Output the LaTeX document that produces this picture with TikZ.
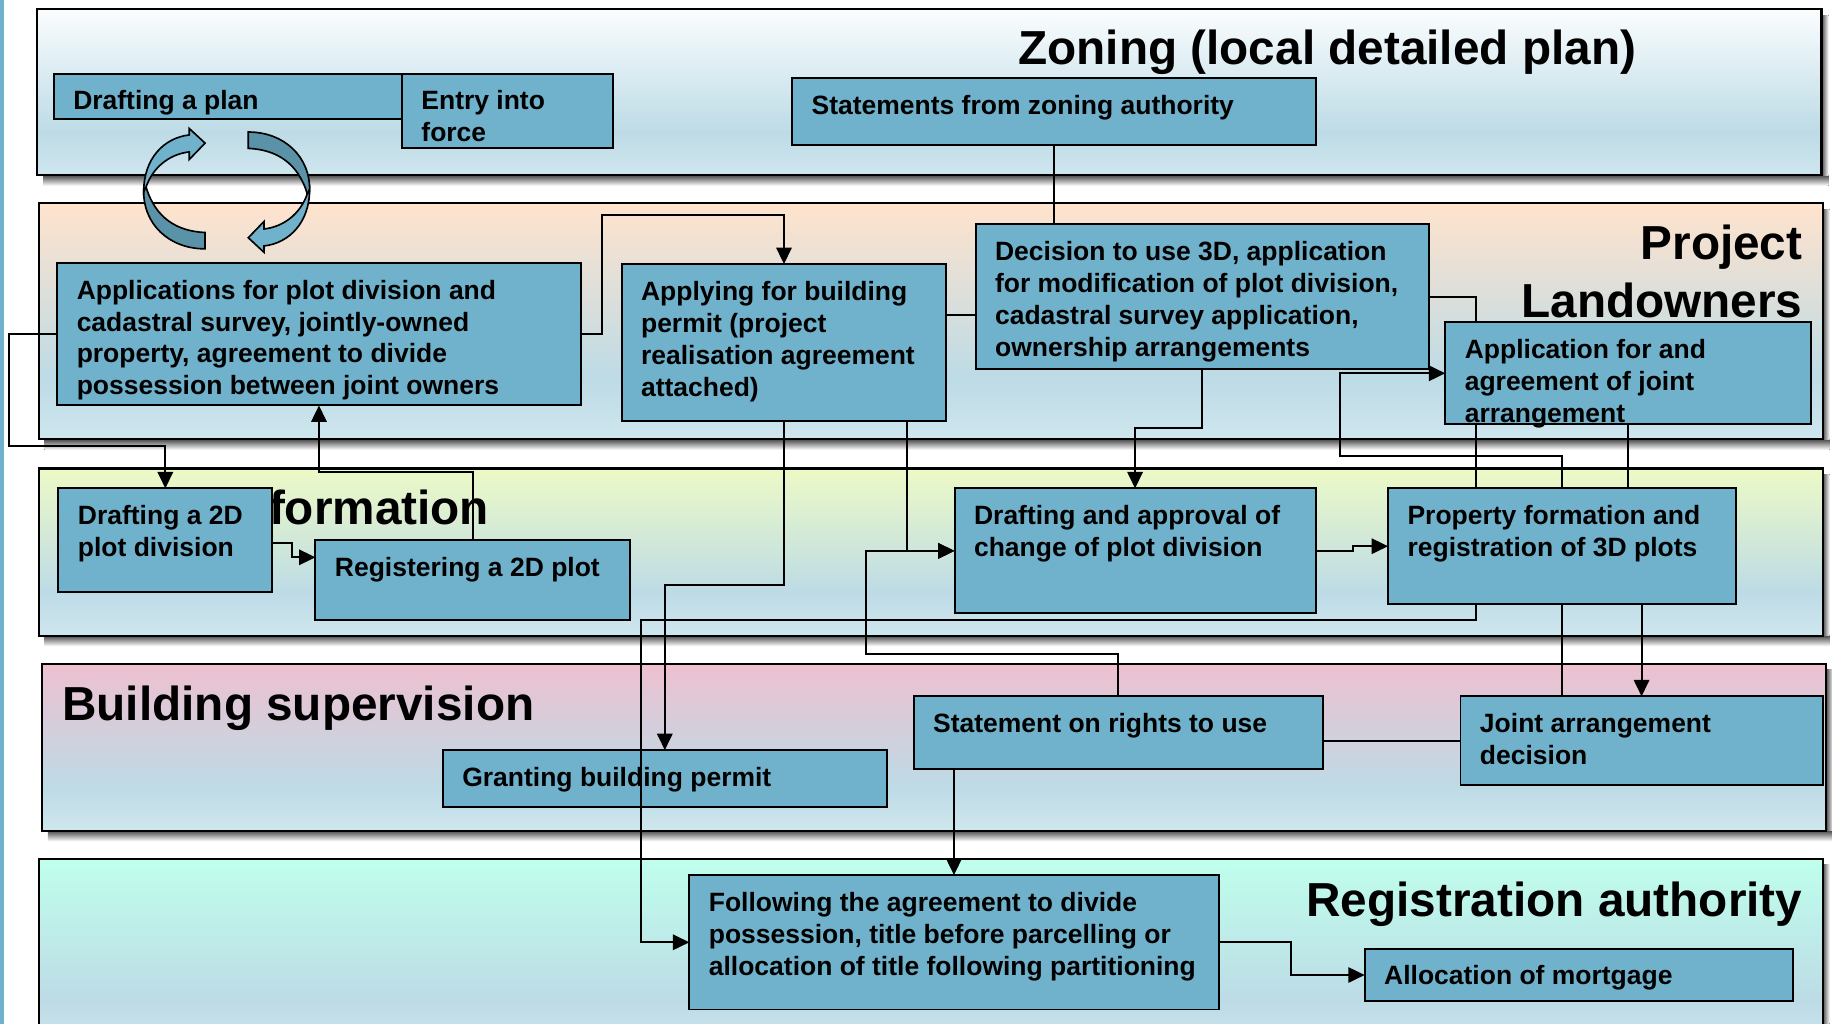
\documentclass[tikz,border=0pt]{standalone}
\usepackage{fontspec}
\setmainfont{Liberation Sans}
\usepackage{tikz}
\usetikzlibrary{arrows.meta}

\definecolor{boxblue}{HTML}{70B2CC}
\definecolor{foldblue}{HTML}{5A92A8}
\definecolor{bandlow}{HTML}{CFE6EE}
\definecolor{bandmid}{HTML}{BDDBE6}
\definecolor{zoningtop}{HTML}{FBFDFE}
\definecolor{projecttop}{HTML}{FFE3CD}
\definecolor{formtop}{HTML}{EDFAC6}
\definecolor{buildtop}{HTML}{EEC0D0}
\definecolor{regtop}{HTML}{BFFFEC}

\newcommand{\bandfade}[2]{\pgfdeclareverticalshading{#1}{100bp}{color(0bp)=(bandlow); color(25bp)=(bandlow); color(38bp)=(bandmid); color(75bp)=(#2); color(100bp)=(#2)}}
\bandfade{zoningfade}{zoningtop}
\bandfade{projectfade}{projecttop}
\bandfade{formfade}{formtop}
\bandfade{buildfade}{buildtop}
\bandfade{regfade}{regtop}

\newdimen\boxunit
\boxunit=0.02cm
\newcommand{\boxtext}[3]{\parbox[c][#2\boxunit][t]{#1\boxunit}{\raggedright\leftskip=16.7\boxunit\rule{0pt}{31\boxunit}#3}}

\tikzset{
	band/.style 2 args={draw=black, line width=1pt, anchor=north west, inner sep=0pt, outer sep=0pt, shade, minimum width=#1*0.02cm, minimum height=#2*0.02cm},
	box/.style={draw=black, line width=.95pt, fill=boxblue, anchor=north west, inner sep=0pt, outer sep=0pt, font=\fontsize{12.9}{15.55}\selectfont\bfseries},
	bandtitle/.style={inner sep=0pt, font=\fontsize{23.25}{28.5}\selectfont\bfseries},
	link/.style={line width=.95pt},
	flow/.style={line width=.95pt, -{Triangle[length=8pt,width=7.5pt]}},
	ribbon/.style={draw=black, line width=.8pt, line join=miter}
}

\begin{document}
\begin{tikzpicture}[x=0.02cm, y=-0.02cm]
	\useasboundingbox (0,0) rectangle (1568,875.6);
	\clip (0,0) rectangle (1568,875.6);
	\fill[boxblue] (0,0) rectangle (3,876);
	% shadows of the bands
	\foreach \xa/\ya/\xb/\yb in {32/8/1559/150, 33/174/1560/376, 33/401/1560/544, 36/568/1563/711}{
		\fill[top color=black!70, bottom color=white] (\xa+5,\yb) rectangle (\xb+6,\yb+9);
		\fill[left color=black!70, right color=white] (\xb,\ya+5) rectangle (\xb+6,\yb);
	}
	\fill[left color=black!70, right color=white] (1560,740) rectangle (1566,876);

	\node (zoning) [band={1527}{142}, shading=zoningfade] at (32,8) {};
	\node (project) [band={1527}{202}, shading=projectfade] at (33,174) {};
	\node (forming) [band={1527}{143}, shading=formfade] at (33,401) {};
	\node (building) [band={1527}{143}, shading=buildfade] at (36,568) {};
	\node (registry) [band={1527}{165}, shading=regfade] at (33,735) {};

	\node (zoningtitle) [bandtitle, anchor=base] at (1136,55) {Zoning (local detailed plan)};
	\node (projecttitle) [bandtitle, anchor=base east] at (1543,222) {Project};
	\node (ownertitle) [bandtitle, anchor=base east] at (1543,272) {Landowners};
	\node (formtitle) [bandtitle, anchor=base east] at (419,449) {formation};
	\node (buildtitle) [bandtitle, anchor=base west] at (53,617) {Building supervision};
	\node (regtitle) [bandtitle, anchor=base east] at (1543,784) {Registration authority};

	% the two turning arrows
	\foreach \turn in {0,180}{
		\begin{scope}[rotate around={\turn:(194,163)}]
			\filldraw[ribbon, fill=foldblue] (123,162) .. controls (122,192) and (145,213) .. (175.5,213) -- (175.5,199) .. controls (152,198) and (133,187) .. (125,160) -- cycle;
			\filldraw[ribbon, fill=boxblue] (123,164) .. controls (123,136) and (140,118) .. (162,115.5) -- (162,110) -- (175.5,122.5) -- (162,136.5) -- (162,130) .. controls (145,132) and (131,143) .. (125,160) -- cycle;
		\end{scope}
	}

	\node (draftplan) [box] at (46,63) {\boxtext{298}{39}{Drafting a plan}};
	\node (entry) [box] at (344,63) {\boxtext{181}{64}{Entry into\\force}};
	\node (statements) [box] at (678,67) {\boxtext{448}{57}{Statements from zoning authority}};
	\node (appl) [box] at (49,225) {\boxtext{448}{122}{Applications for plot division and\\cadastral survey, jointly-owned\\property, agreement to divide\\possession between joint owners}};
	\node (applying) [box] at (532,226) {\boxtext{278}{134}{Applying for building\\permit (project\\realisation agreement\\attached)}};
	\node (decision) [box] at (835,192) {\boxtext{388}{124}{Decision to use 3D, application\\for modification of plot division,\\cadastral survey application,\\ownership arrangements}};
	\node (jointapp) [box] at (1237,276) {\boxtext{313}{87}{Application for and\\agreement of joint\\arrangement}};
	\node (draft2d) [box] at (50,418) {\boxtext{183}{89}{Drafting a 2D\\plot division}};
	\node (reg2d) [box] at (270,462) {\boxtext{269}{69}{Registering a 2D plot}};
	\node (changeplot) [box] at (817,418) {\boxtext{309}{107}{Drafting and approval of\\change of plot division}};
	\node (prop3d) [box] at (1188,418) {\boxtext{298}{99}{Property formation and\\registration of 3D plots}};
	\node (grant) [box] at (379,642) {\boxtext{380}{49}{Granting building permit}};
	\node (rights) [box] at (782,596) {\boxtext{350}{62}{Statement on rights to use}};
	\node (jointdec) [box] at (1250,596) {\boxtext{310}{76}{Joint arrangement\\decision}};
	\node (title) [box] at (590,749) {\boxtext{453}{115}{Following the agreement to divide\\possession, title before parcelling or\\allocation of title following partitioning}};
	\node (mortgage) [box] at (1168,812) {\boxtext{367}{45}{Allocation of mortgage}};

	\draw[link] (statements.south) -- (decision.north -| statements.south);
	\draw[flow] (appl.east) -- ++(18,0) |- (applying.north |- 0,184) -- (applying.north);
	\draw[link] (applying.east |- 0,270) -- (decision.west |- 0,270);
	\draw[link] (decision.east) -| (jointapp.north -| 1263,0);
	\draw[link] (jointapp.south -| 1263,0) -- (prop3d.north -| 1263,0);
	\draw[flow] (prop3d.south -| 1263,0) |- (549,531) |- (title.west);
	\draw[flow] (prop3d.north) |- (1147,390) |- (jointapp.west);
	\draw[link] (jointapp.south) -- (prop3d.north -| jointapp.south);
	\draw[link] (prop3d.south) -- (jointdec.north -| prop3d.south);
	\draw[flow] (prop3d.south -| jointdec.north) -- (jointdec.north);
	\draw[flow] (appl.west) -- ++(-41,0) |- (draft2d.north |- 0,382) -- (draft2d.north);
	\draw[flow] (draft2d.east |- 0,465) -- ++(17,0) |- (reg2d.west |- 0,477);
	\draw[flow] (reg2d.north) |- (appl.south |- 0,404) -- (appl.south);
	\draw[flow] (applying.south) |- (grant.north |- 0,501) -- (grant.north);
	\draw[flow] (applying.south -| 776,0) |- (changeplot.west);
	\draw[flow] (decision.south) |- (changeplot.north |- 0,366) -- (changeplot.north);
	\draw[flow] (changeplot.east) -- ++(32,0) |- (prop3d.west);
	\draw[flow] (rights.north) |- (741,560) |- (changeplot.west);
	\draw[link] (rights.east |- jointdec.west) -- (jointdec.west);
	\draw[flow] (rights.south -| title.north) -- (title.north);
	\draw[flow] (title.east) -- ++(62,0) |- (mortgage.west);
\end{tikzpicture}
\end{document}
